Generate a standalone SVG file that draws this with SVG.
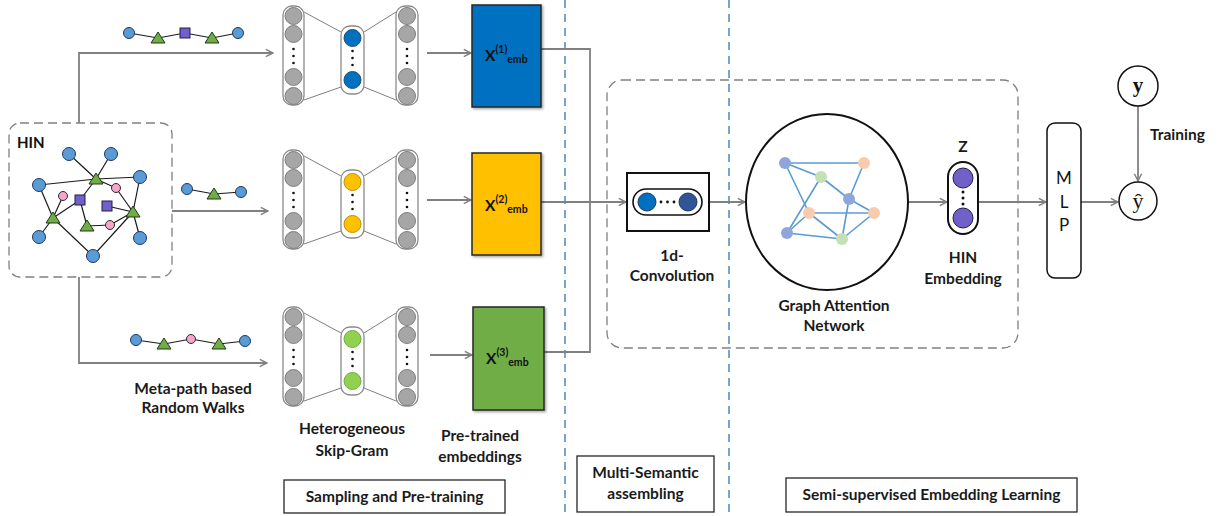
<svg xmlns="http://www.w3.org/2000/svg" width="1222" height="516" viewBox="0 0 1222 516">
<defs>
<style>
.lbl{font-family:Lato,"Liberation Sans",Arial,sans-serif;font-weight:bold;font-size:15.5px;fill:#1a1a1a;text-anchor:middle}
.conn{fill:none;stroke:#808080;stroke-width:1.8}
.sep{stroke:#2E75B6;stroke-width:1.3;stroke-dasharray:8,6}
.gdash{fill:none;stroke:#808080;stroke-width:1.3;stroke-dasharray:9,5}
.hinE{stroke:#1a1a1a;stroke-width:1.2}
.bc{fill:#5B9BD5;stroke:#1F3864;stroke-width:1}
.pc{fill:#F4A7CB;stroke:#2b2b2b;stroke-width:1}
.tr{fill:#70AD47;stroke:#1f3a12;stroke-width:1}
.sq{fill:#7060C8;stroke:#1f1f4f;stroke-width:1}
.col{fill:#fff;stroke:#8a8a8a;stroke-width:1.3}
.gc{fill:#A6A6A6;stroke:#7f7f7f;stroke-width:1}
.dot{fill:#111}
.sgl{stroke:#7f7f7f;stroke-width:1;fill:none}
.emb{stroke:#262626;stroke-width:1.5}
.gate{stroke:#5B9BD5;stroke-width:1.6}
.box{fill:#fff;stroke:#262626;stroke-width:1.3}
.xt{font-family:Lato,"Liberation Sans",Arial,sans-serif;font-weight:bold;fill:#111}
</style>
<marker id="arr" viewBox="0 0 10 10" refX="9" refY="5" markerWidth="9" markerHeight="10" markerUnits="userSpaceOnUse" orient="auto"><path d="M1,1 L9,5 L1,9" fill="none" stroke="#808080" stroke-width="1.6"/></marker>
<filter id="sh" x="-10%" y="-10%" width="130%" height="130%"><feDropShadow dx="1.5" dy="1.5" stdDeviation="1.2" flood-color="#000" flood-opacity="0.35"/></filter>
<g id="sg">
<path class="sgl" d="M304,12 L341,32 M304,100 L341,87 M364,32 L396,12 M364,87 L396,100"/>
<rect class="col" x="283" y="6" width="21" height="99" rx="9"/>
<rect class="col" x="341" y="26" width="23" height="68" rx="9"/>
<rect class="col" x="396" y="6" width="22" height="99" rx="9"/>
<circle class="gc" cx="293.5" cy="16" r="8.5"/><circle class="gc" cx="293.5" cy="34" r="8.5"/>
<circle class="gc" cx="293.5" cy="77" r="8.5"/><circle class="gc" cx="293.5" cy="96" r="8.5"/>
<circle class="gc" cx="407" cy="16" r="8.5"/><circle class="gc" cx="407" cy="34" r="8.5"/>
<circle class="gc" cx="407" cy="77" r="8.5"/><circle class="gc" cx="407" cy="96" r="8.5"/>
<circle class="dot" cx="293.5" cy="49" r="1.3"/><circle class="dot" cx="293.5" cy="56" r="1.3"/><circle class="dot" cx="293.5" cy="63" r="1.3"/>
<circle class="dot" cx="407" cy="49" r="1.3"/><circle class="dot" cx="407" cy="56" r="1.3"/><circle class="dot" cx="407" cy="63" r="1.3"/>
<circle class="dot" cx="352.5" cy="51" r="1.3"/><circle class="dot" cx="352.5" cy="58" r="1.3"/><circle class="dot" cx="352.5" cy="65" r="1.3"/>
</g>
</defs>
<rect width="1222" height="516" fill="#fff"/>

<g id="separators">
<line class="sep" x1="565" y1="0" x2="565" y2="516"/>
<line class="sep" x1="729" y1="0" x2="729" y2="516"/>
<rect class="gdash" x="607" y="80" width="411" height="268" rx="15"/>
</g>

<g id="connectors">
<path class="conn" d="M79,123 V53 H273" marker-end="url(#arr)"/>
<path class="conn" d="M172,211 H268" marker-end="url(#arr)"/>
<path class="conn" d="M79,277 V363 H267" marker-end="url(#arr)"/>
<path class="conn" d="M427,53 H471" marker-end="url(#arr)"/>
<path class="conn" d="M427,200 H471" marker-end="url(#arr)"/>
<path class="conn" d="M430,355 H472" marker-end="url(#arr)"/>
<path class="conn" d="M541,49 H590 V352 H544"/>
<path class="conn" d="M541,202 H626" marker-end="url(#arr)"/>
<path class="conn" d="M709,202 H745" marker-end="url(#arr)"/>
<path class="conn" d="M908,202 H947" marker-end="url(#arr)"/>
<path class="conn" d="M978,202 H1046" marker-end="url(#arr)"/>
<path class="conn" d="M1081,202 H1118" marker-end="url(#arr)"/>
<path class="conn" d="M1138,106 V181" marker-end="url(#arr)"/>
</g>

<g id="hin">
<rect class="gdash" x="9" y="123" width="163" height="154" rx="11"/>
<text x="17" y="148" class="xt" font-size="15">HIN</text>
<g class="hinE">
<line x1="69" y1="154" x2="96" y2="179"/><line x1="111" y1="154" x2="96" y2="179"/>
<line x1="39" y1="185" x2="96" y2="179"/><line x1="96" y1="179" x2="140" y2="177"/>
<line x1="39" y1="185" x2="53" y2="218"/><line x1="53" y1="218" x2="63" y2="196"/>
<line x1="96" y1="179" x2="80" y2="200"/><line x1="80" y1="200" x2="87" y2="226"/>
<line x1="53" y1="218" x2="80" y2="200"/><line x1="96" y1="179" x2="116" y2="188"/>
<line x1="116" y1="188" x2="133" y2="212"/><line x1="140" y1="177" x2="133" y2="212"/>
<line x1="107" y1="206" x2="133" y2="212"/><line x1="133" y1="212" x2="140" y2="238"/>
<line x1="87" y1="226" x2="110" y2="225"/><line x1="110" y1="225" x2="133" y2="212"/>
<line x1="53" y1="218" x2="39" y2="237"/><line x1="53" y1="218" x2="93" y2="256"/>
<line x1="133" y1="212" x2="93" y2="256"/>
</g>
<circle class="bc" cx="69" cy="154" r="6.5"/><circle class="bc" cx="111" cy="154" r="6.5"/>
<circle class="bc" cx="39" cy="185" r="6.5"/><circle class="bc" cx="140" cy="177" r="6.5"/>
<circle class="bc" cx="39" cy="237" r="6.5"/><circle class="bc" cx="140" cy="238" r="6.5"/>
<circle class="bc" cx="93" cy="256" r="6.5"/>
<circle class="pc" cx="63" cy="196" r="4.5"/><circle class="pc" cx="116" cy="188" r="4.5"/><circle class="pc" cx="110" cy="225" r="4.5"/>
<rect class="sq" x="75" y="195" width="10" height="10"/><rect class="sq" x="102" y="201" width="10" height="10"/>
<polygon class="tr" points="96,173 89,184 103,184"/>
<polygon class="tr" points="53,212 46,223 60,223"/>
<polygon class="tr" points="133,206 126,217 140,217"/>
<polygon class="tr" points="87,220 80,231 94,231"/>
</g>

<g id="walk1">
<polyline class="hinE" fill="none" points="129,33 158,38 185,33 212,38 238,33"/>
<circle class="bc" cx="129" cy="33" r="5.5"/>
<polygon class="tr" points="158,32 151,43 165,43"/>
<rect class="sq" x="180" y="28" width="10" height="10"/>
<polygon class="tr" points="212,32 205,43 219,43"/>
<circle class="bc" cx="238" cy="33" r="5.5"/>
</g>
<g id="walk2">
<polyline class="hinE" fill="none" points="187,189 214,194 241,192"/>
<circle class="bc" cx="187" cy="189" r="5.5"/>
<polygon class="tr" points="214,188 207,199 221,199"/>
<circle class="bc" cx="241" cy="192" r="5.5"/>
</g>
<g id="walk3">
<polyline class="hinE" fill="none" points="136,340 164,344 191,339 219,344 245,341"/>
<circle class="bc" cx="136" cy="340" r="5.5"/>
<polygon class="tr" points="164,338 157,349 171,349"/>
<circle class="pc" cx="191" cy="339" r="4.5"/>
<polygon class="tr" points="219,338 212,349 226,349"/>
<circle class="bc" cx="245" cy="341" r="5.5"/>
</g>

<g id="skipgram1">
<use href="#sg"/>
<circle cx="352.5" cy="38" r="8.5" fill="#0070C0" stroke="#1F4E79"/>
<circle cx="352.5" cy="80" r="8.5" fill="#0070C0" stroke="#1F4E79"/>
</g>
<g id="skipgram2" transform="translate(0,144)">
<use href="#sg"/>
<circle cx="352.5" cy="38" r="8.5" fill="#FFC000" stroke="#BF9000"/>
<circle cx="352.5" cy="80" r="8.5" fill="#FFC000" stroke="#BF9000"/>
</g>
<g id="skipgram3" transform="translate(0,301)">
<use href="#sg"/>
<circle cx="352.5" cy="38" r="8.5" fill="#92D050" stroke="#70AD47"/>
<circle cx="352.5" cy="80" r="8.5" fill="#92D050" stroke="#70AD47"/>
</g>

<g id="emb1">
<rect class="emb" x="472" y="5" width="69" height="102" fill="#0070C0" filter="url(#sh)"/>
<text x="485" y="61" class="xt" font-size="15.5">X<tspan dy="-8" font-size="10.5">(1)</tspan><tspan dy="10" font-size="10.5">emb</tspan></text>
</g>
<g id="emb2">
<rect class="emb" x="472" y="153" width="69" height="102" fill="#FFC000" filter="url(#sh)"/>
<text x="485" y="211" class="xt" font-size="15.5">X<tspan dy="-8" font-size="10.5">(2)</tspan><tspan dy="10" font-size="10.5">emb</tspan></text>
</g>
<g id="emb3">
<rect class="emb" x="473" y="307" width="71" height="103" fill="#70AD47" filter="url(#sh)"/>
<text x="486" y="364" class="xt" font-size="15.5">X<tspan dy="-8" font-size="10.5">(3)</tspan><tspan dy="10" font-size="10.5">emb</tspan></text>
</g>

<g id="conv">
<rect x="627" y="173" width="82" height="58" fill="#fff" stroke="#111" stroke-width="2"/>
<rect x="633" y="189" width="69" height="26" rx="13" fill="#fff" stroke="#111" stroke-width="1.6"/>
<circle cx="647" cy="202" r="9" fill="#0070C0" stroke="#1F3864"/>
<circle cx="688" cy="202" r="9" fill="#2F5597" stroke="#1F3864"/>
<circle class="dot" cx="661" cy="202" r="1.4"/><circle class="dot" cx="667.5" cy="202" r="1.4"/><circle class="dot" cx="674" cy="202" r="1.4"/>
<text class="lbl" x="672" y="261">1d-</text>
<text class="lbl" x="672" y="281">Convolution</text>
</g>

<g id="gat">
<ellipse cx="827" cy="202" rx="81" ry="88" fill="#fff" stroke="#111" stroke-width="2"/>
<g class="gate">
<line x1="785" y1="163" x2="864" y2="163"/><line x1="785" y1="163" x2="821" y2="177"/>
<line x1="785" y1="163" x2="809" y2="213"/><line x1="821" y1="177" x2="849" y2="199"/>
<line x1="821" y1="177" x2="787" y2="233"/><line x1="864" y1="163" x2="849" y2="199"/>
<line x1="849" y1="199" x2="874" y2="213"/><line x1="849" y1="199" x2="842" y2="239"/>
<line x1="809" y1="213" x2="874" y2="213"/><line x1="809" y1="213" x2="842" y2="239"/>
<line x1="787" y1="233" x2="809" y2="213"/><line x1="787" y1="233" x2="842" y2="239"/>
<line x1="874" y1="213" x2="842" y2="239"/>
</g>
<circle cx="785" cy="163" r="6" fill="#8FA5DB"/><circle cx="849" cy="199" r="6" fill="#8FA5DB"/><circle cx="787" cy="233" r="6" fill="#8FA5DB"/>
<circle cx="864" cy="163" r="6" fill="#F8CBAD"/><circle cx="809" cy="213" r="6" fill="#F8CBAD"/><circle cx="874" cy="213" r="6" fill="#F8CBAD"/>
<circle cx="821" cy="177" r="6" fill="#C5E0B4"/><circle cx="842" cy="239" r="6" fill="#C5E0B4"/>
<text class="lbl" x="834" y="311">Graph Attention</text>
<text class="lbl" x="834" y="331">Network</text>
</g>

<g id="z">
<text class="lbl" x="963" y="152">Z</text>
<rect x="948" y="162" width="30" height="72" rx="15" fill="#fff" stroke="#111" stroke-width="2"/>
<circle cx="963" cy="178" r="10" fill="#7060C8" stroke="#1f1f4f"/>
<circle cx="963" cy="218" r="10" fill="#7060C8" stroke="#1f1f4f"/>
<circle class="dot" cx="963" cy="192" r="1.5"/><circle class="dot" cx="963" cy="198" r="1.5"/><circle class="dot" cx="963" cy="204" r="1.5"/>
<text class="lbl" x="963" y="263">HIN</text>
<text class="lbl" x="963" y="284">Embedding</text>
</g>

<g id="mlp">
<rect x="1047" y="123" width="34" height="155" rx="8" fill="#fff" stroke="#111" stroke-width="1.5"/>
<text x="1064" y="184" font-family="Lato,'Liberation Sans',Arial,sans-serif" font-size="17" text-anchor="middle" fill="#111">M</text>
<text x="1064" y="208" font-family="Lato,'Liberation Sans',Arial,sans-serif" font-size="17" text-anchor="middle" fill="#111">L</text>
<text x="1064" y="231" font-family="Lato,'Liberation Sans',Arial,sans-serif" font-size="17" text-anchor="middle" fill="#111">P</text>
</g>

<g id="y">
<circle cx="1138" cy="86" r="20" fill="#fff" stroke="#111" stroke-width="1.5"/>
<text x="1138" y="92" font-family="'Liberation Serif',serif" font-weight="bold" font-size="21" text-anchor="middle" fill="#111">y</text>
</g>
<g id="yhat">
<circle cx="1138" cy="201" r="19" fill="#fff" stroke="#111" stroke-width="1.5"/>
<text x="1138" y="208" font-family="'Liberation Serif',serif" font-size="22" text-anchor="middle" fill="#111">ŷ</text>
</g>
<text class="lbl" x="1150" y="140" style="text-anchor:start">Training</text>

<g id="labels">
<text class="lbl" x="193" y="394">Meta-path based</text>
<text class="lbl" x="193" y="413">Random Walks</text>
<text class="lbl" x="352" y="434">Heterogeneous</text>
<text class="lbl" x="352" y="456">Skip-Gram</text>
<text class="lbl" x="480" y="441">Pre-trained</text>
<text class="lbl" x="480" y="462">embeddings</text>
</g>

<g id="stage1">
<rect class="box" x="284" y="480" width="221" height="33"/>
<text class="lbl" x="394.5" y="502">Sampling and Pre-training</text>
</g>
<g id="stage2">
<rect class="box" x="577" y="456" width="137" height="56"/>
<text class="lbl" x="645.5" y="478">Multi-Semantic</text>
<text class="lbl" x="645.5" y="499">assembling</text>
</g>
<g id="stage3">
<rect class="box" x="786" y="478" width="291" height="34"/>
<text class="lbl" x="931.5" y="500">Semi-supervised Embedding Learning</text>
</g>
</svg>
